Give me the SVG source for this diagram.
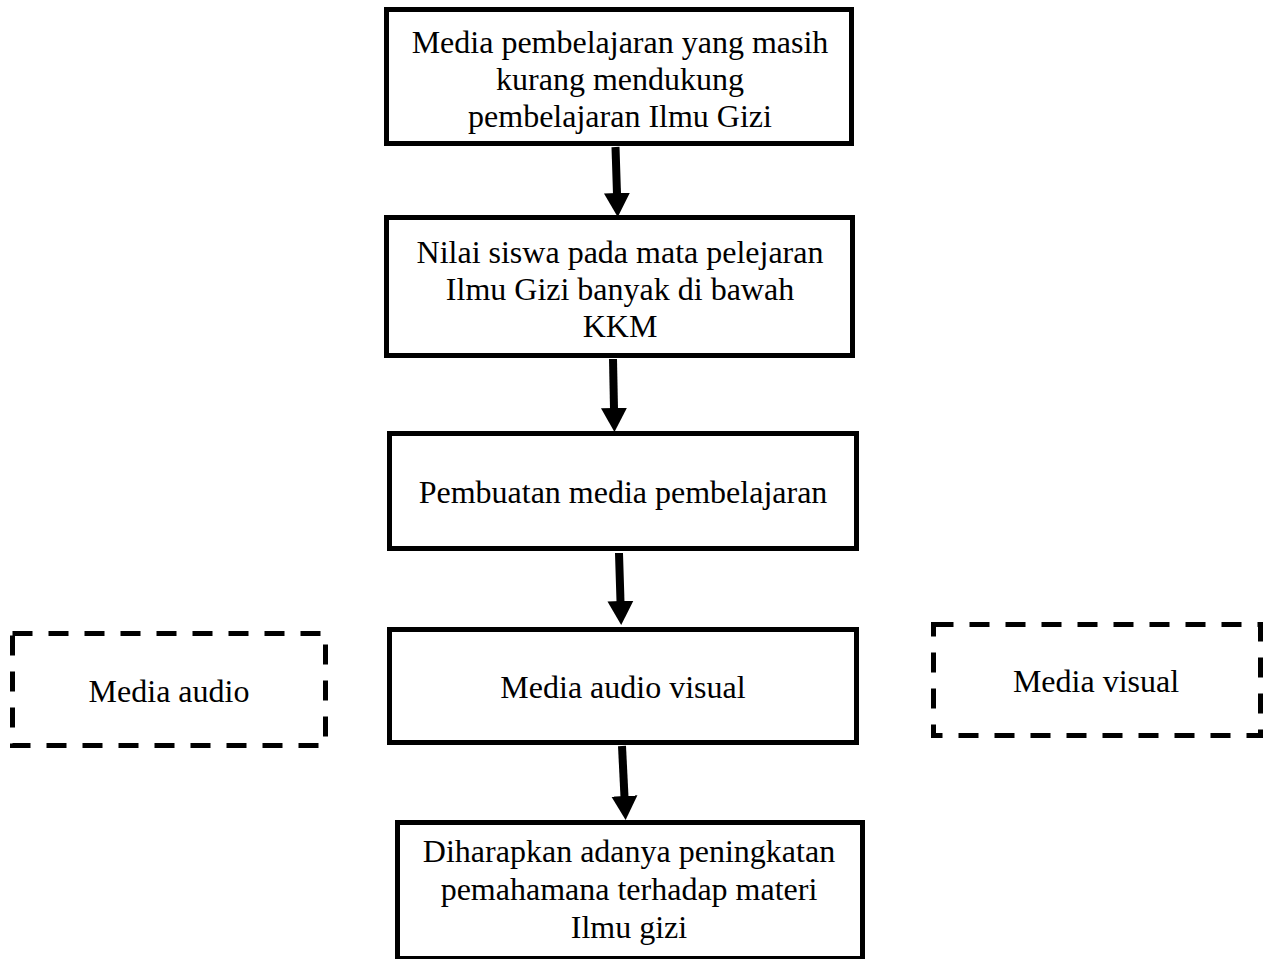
<svg xmlns="http://www.w3.org/2000/svg" width="1265" height="959" viewBox="0 0 1265 959">
<style>
.box{fill:#fff;stroke:#000;stroke-width:5}
.dash{fill:none;stroke:#000;stroke-width:5;stroke-dasharray:20 16}
.t{font-family:"Liberation Serif","Times New Roman",serif;font-size:32px;fill:#000;text-anchor:middle}
.arr{stroke:#000;stroke-width:8;fill:none;marker-end:url(#ah)}
</style>
<defs>
<marker id="ah" markerUnits="userSpaceOnUse" markerWidth="26" markerHeight="28" viewBox="0 -14 26 28" refX="1" refY="0" orient="auto">
<path d="M0,-13 L24,0 L0,13 Z" fill="#000"/>
</marker>
</defs>
<rect width="1265" height="959" fill="#fff"/>
<g id="connectors">
<line class="arr" x1="615.5" y1="147" x2="617" y2="194"/>
<line class="arr" x1="613" y1="359" x2="614" y2="409"/>
<line class="arr" x1="619" y1="553" x2="620.5" y2="602"/>
<line class="arr" x1="622" y1="746" x2="624.5" y2="797"/>
</g>
<g id="n1">
<rect class="box" x="386.5" y="9.5" width="465" height="134"/>
<text class="t"><tspan x="620" y="53">Media pembelajaran yang masih</tspan><tspan x="620" y="90">kurang mendukung</tspan><tspan x="620" y="127">pembelajaran Ilmu Gizi</tspan></text>
</g>
<g id="n2">
<rect class="box" x="386.5" y="217.5" width="466" height="138"/>
<text class="t"><tspan x="620" y="263">Nilai siswa pada mata pelejaran</tspan><tspan x="620" y="300">Ilmu Gizi banyak di bawah</tspan><tspan x="620" y="337">KKM</tspan></text>
</g>
<g id="n3">
<rect class="box" x="389.5" y="433.5" width="467" height="115"/>
<text class="t" x="623" y="503">Pembuatan media pembelajaran</text>
</g>
<g id="n4">
<rect class="box" x="389.5" y="629.5" width="467" height="113"/>
<text class="t" x="623" y="698">Media audio visual</text>
</g>
<g id="n5">
<rect class="box" x="397.5" y="822.5" width="465" height="136"/>
<text class="t"><tspan x="629" y="862">Diharapkan adanya peningkatan</tspan><tspan x="629" y="900">pemahamana terhadap materi</tspan><tspan x="629" y="938">Ilmu gizi</tspan></text>
</g>
<g id="n6">
<rect class="dash" x="12.5" y="633.5" width="313" height="112"/>
<text class="t" x="169" y="702">Media audio</text>
</g>
<g id="n7">
<rect class="dash" x="933.5" y="624.5" width="327" height="111"/>
<text class="t" x="1096" y="692">Media visual</text>
</g>
</svg>
